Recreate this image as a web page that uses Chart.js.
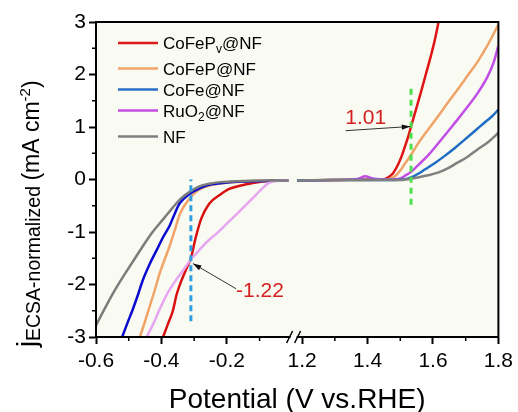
<!DOCTYPE html>
<html>
<head>
<meta charset="utf-8">
<script src="https://cdn.jsdelivr.net/npm/chart.js@4.4.0/dist/chart.umd.min.js"></script>
<style>
  html, body { margin: 0; padding: 0; background: #fff; }
</style>
</head>
<body>
<canvas id="myChart" width="518" height="412"></canvas>
<script>
// HER branch: [potential (V vs RHE), j (mA cm-2)]
const herCoFePv = [[-0.395,-3.0],[-0.38,-2.75],[-0.365,-2.5],[-0.354,-2.2],[-0.336,-1.88],[-0.32,-1.65],[-0.31,-1.5],[-0.295,-1.1],[-0.278,-0.74],[-0.254,-0.46],[-0.223,-0.3],[-0.193,-0.18],[-0.14,-0.09],[-0.09,-0.04],[-0.04,-0.02],[-0.012,-0.02]];
const herCoFeP  = [[-0.466,-3.0],[-0.45,-2.7],[-0.436,-2.42],[-0.42,-2.1],[-0.406,-1.8],[-0.39,-1.52],[-0.375,-1.27],[-0.36,-0.98],[-0.345,-0.68],[-0.33,-0.5],[-0.315,-0.37],[-0.3,-0.27],[-0.284,-0.19],[-0.25,-0.11],[-0.2,-0.06],[-0.12,-0.03],[-0.012,-0.02]];
const herCoFe   = [[-0.52,-3.0],[-0.505,-2.75],[-0.488,-2.48],[-0.472,-2.2],[-0.457,-1.92],[-0.435,-1.6],[-0.415,-1.35],[-0.395,-1.1],[-0.375,-0.88],[-0.36,-0.66],[-0.345,-0.46],[-0.315,-0.28],[-0.284,-0.17],[-0.26,-0.11],[-0.22,-0.07],[-0.16,-0.04],[-0.08,-0.03],[-0.012,-0.02]];
const herRuO2   = [[-0.445,-3.0],[-0.425,-2.75],[-0.406,-2.48],[-0.38,-2.15],[-0.354,-1.9],[-0.33,-1.7],[-0.31,-1.52],[-0.285,-1.35],[-0.263,-1.2],[-0.23,-1.02],[-0.2,-0.84],[-0.17,-0.66],[-0.141,-0.48],[-0.12,-0.35],[-0.1,-0.22],[-0.072,-0.07],[-0.04,-0.02],[-0.012,-0.02]];
const herNF     = [[-0.6,-2.78],[-0.575,-2.48],[-0.548,-2.17],[-0.52,-1.88],[-0.488,-1.57],[-0.458,-1.28],[-0.427,-1.0],[-0.395,-0.76],[-0.366,-0.54],[-0.34,-0.36],[-0.315,-0.24],[-0.284,-0.13],[-0.254,-0.08],[-0.22,-0.05],[-0.19,-0.04],[-0.1,-0.02],[-0.012,-0.02]];

// OER branch
const oerCoFePv = [[1.185,-0.02],[1.3,-0.01],[1.4,0.0],[1.447,0.0],[1.463,0.04],[1.478,0.12],[1.493,0.28],[1.504,0.44],[1.514,0.62],[1.524,0.81],[1.533,1.01],[1.548,1.33],[1.563,1.66],[1.578,2.0],[1.593,2.34],[1.605,2.64],[1.617,3.0]];
const oerCoFeP  = [[1.185,-0.02],[1.3,-0.01],[1.46,0.0],[1.484,0.06],[1.5,0.17],[1.514,0.3],[1.534,0.48],[1.554,0.68],[1.585,0.95],[1.615,1.2],[1.645,1.46],[1.675,1.71],[1.705,1.97],[1.736,2.24],[1.766,2.55],[1.8,2.95]];
const oerCoFe   = [[1.185,-0.02],[1.3,-0.01],[1.45,-0.01],[1.51,0.0],[1.533,0.04],[1.555,0.11],[1.575,0.19],[1.605,0.31],[1.636,0.45],[1.667,0.6],[1.697,0.76],[1.727,0.92],[1.757,1.08],[1.78,1.2],[1.8,1.33]];
const oerRuO2   = [[1.185,-0.02],[1.3,-0.01],[1.37,0.01],[1.393,0.06],[1.415,0.02],[1.46,0.0],[1.5,0.02],[1.514,0.07],[1.534,0.15],[1.554,0.27],[1.585,0.46],[1.615,0.68],[1.645,0.91],[1.675,1.14],[1.705,1.38],[1.736,1.64],[1.766,1.95],[1.785,2.22],[1.8,2.55]];
const oerNF     = [[1.185,-0.02],[1.3,-0.01],[1.5,-0.01],[1.554,0.04],[1.585,0.08],[1.615,0.13],[1.645,0.21],[1.675,0.32],[1.705,0.43],[1.736,0.57],[1.77,0.72],[1.8,0.89]];

// marker lines and labels
const herMark = [[-0.31, -2.7], [-0.31, 0.0]];
const oerMark = [[1.533, -0.48], [1.533, 1.75]];
const herLabel = '-1.22';
const oerLabel = '1.01';

const xTickValues = [-0.6, -0.4, -0.2, 1.2, 1.4, 1.6, 1.8];
const xMinorValues = [-0.5, -0.3, -0.1, 1.3, 1.5, 1.7];
const yMinorValues = [-2.5, -1.5, -0.5, 0.5, 1.5, 2.5];

// axis break: OER potentials are shifted left to close the gap
const BREAK = 1.17;
function toAxis(v) { return v > 0.5 ? v - BREAK : v; }
function pts(arr) { return arr.map(p => ({ x: toAxis(p[0]), y: p[1] })); }

const FONT = "'Liberation Sans', Arial, sans-serif";
Chart.defaults.font.family = FONT;

function line(data, color, extra) {
  return Object.assign({
    data: pts(data),
    borderColor: color,
    borderWidth: 2.5,
    pointRadius: 0,
    showLine: true,
    fill: false,
    cubicInterpolationMode: 'monotone'
  }, extra || {});
}

const datasets = [
  line(herMark, '#2f9ee0', { borderWidth: 3, borderDash: [6, 4], cubicInterpolationMode: 'default' }),
  line(oerMark, '#4ce04c', { borderWidth: 3, borderDash: [6, 5], cubicInterpolationMode: 'default' }),
  line(herNF, '#7c7c7c'),
  line(herRuO2, '#e6a6f2'),
  line(herCoFe, '#0a0ad0'),
  line(herCoFeP, '#f0a468'),
  line(herCoFePv, '#d81010'),
  line(oerNF, '#808080'),
  line(oerCoFe, '#1f6cc4'),
  line(oerRuO2, '#c24ee6'),
  line(oerCoFeP, '#f0a468'),
  line(oerCoFePv, '#e01414')
];

// legend rows: text pieces [text, isSub]
const legendRows = [
  { color: '#e01818', parts: [['CoFeP', 0], ['v', 1], ['@NF', 0]] },
  { color: '#f0a46a', parts: [['CoFeP@NF', 0]] },
  { color: '#2a6fc9', parts: [['CoFe@NF', 0]] },
  { color: '#c44ce0', parts: [['RuO', 0], ['2', 1], ['@NF', 0]] },
  { color: '#808080', parts: [['NF', 0]] }
];
const legendY = [43, 68.5, 89.5, 110.5, 136.5];

function arrow(ctx, x1, y1, x2, y2) {
  ctx.beginPath();
  ctx.moveTo(x1, y1);
  ctx.lineTo(x2, y2);
  ctx.stroke();
  const a = Math.atan2(y2 - y1, x2 - x1);
  ctx.beginPath();
  ctx.moveTo(x2, y2);
  ctx.lineTo(x2 - 9 * Math.cos(a - 0.3), y2 - 9 * Math.sin(a - 0.3));
  ctx.lineTo(x2 - 9 * Math.cos(a + 0.3), y2 - 9 * Math.sin(a + 0.3));
  ctx.closePath();
  ctx.fill();
}

const decor = {
  id: 'decor',
  beforeDraw(chart) {
    const { ctx, chartArea: a } = chart;
    ctx.save();
    ctx.fillStyle = '#f9fbf3';
    ctx.fillRect(a.left, a.top, a.right - a.left, a.bottom - a.top);
    ctx.restore();
  },
  afterDraw(chart) {
    const { ctx, chartArea: a } = chart;
    const xs = chart.scales.x, ys = chart.scales.y;
    ctx.save();

    // frame
    ctx.strokeStyle = '#000';
    ctx.lineWidth = 2;
    ctx.strokeRect(a.left, a.top, a.right - a.left, a.bottom - a.top);

    // minor ticks
    ctx.lineWidth = 1.5;
    ctx.beginPath();
    xMinorValues.forEach(v => {
      const px = xs.getPixelForValue(toAxis(v));
      ctx.moveTo(px, a.bottom);
      ctx.lineTo(px, a.bottom + 4);
    });
    yMinorValues.forEach(v => {
      const py = ys.getPixelForValue(v);
      ctx.moveTo(a.left, py);
      ctx.lineTo(a.left - 4, py);
    });
    ctx.stroke();

    // axis break marks
    const bx = xs.getPixelForValue(0.004);
    ctx.fillStyle = '#fff';
    ctx.fillRect(bx - 3, a.bottom - 2, 6, 4);
    ctx.strokeStyle = '#000';
    ctx.lineWidth = 1.5;
    ctx.beginPath();
    ctx.moveTo(bx - 7, a.bottom + 6); ctx.lineTo(bx - 1, a.bottom - 6);
    ctx.moveTo(bx + 1, a.bottom + 6); ctx.lineTo(bx + 7, a.bottom - 6);
    ctx.stroke();

    // legend
    legendRows.forEach((row, i) => {
      const y = legendY[i];
      ctx.strokeStyle = row.color;
      ctx.lineWidth = 2.5;
      ctx.beginPath();
      ctx.moveTo(118, y);
      ctx.lineTo(158, y);
      ctx.stroke();
      let x = 163;
      ctx.fillStyle = '#000';
      ctx.textBaseline = 'alphabetic';
      ctx.textAlign = 'left';
      row.parts.forEach(([t, sub]) => {
        ctx.font = (sub ? '12px ' : '17px ') + FONT;
        ctx.fillText(t, x, y + 6 + (sub ? 4 : 0));
        x += ctx.measureText(t).width;
      });
    });

    // annotations
    ctx.strokeStyle = '#333';
    ctx.fillStyle = '#111';
    ctx.lineWidth = 1;
    arrow(ctx, xs.getPixelForValue(toAxis(1.333)), ys.getPixelForValue(0.93),
               xs.getPixelForValue(toAxis(1.531)), ys.getPixelForValue(1.01));
    arrow(ctx, xs.getPixelForValue(-0.172), ys.getPixelForValue(-2.08),
               xs.getPixelForValue(-0.304), ys.getPixelForValue(-1.6));
    ctx.fillStyle = '#d42020';
    ctx.font = '21px ' + FONT;
    ctx.textAlign = 'left';
    ctx.fillText(oerLabel, xs.getPixelForValue(toAxis(1.332)), ys.getPixelForValue(1.05));
    ctx.fillText(herLabel, xs.getPixelForValue(-0.172), ys.getPixelForValue(-2.23));

    // x title
    ctx.fillStyle = '#000';
    ctx.font = '28px ' + FONT;
    ctx.textAlign = 'center';
    ctx.fillText('Potential (V vs.RHE)', (a.left + a.right) / 2, 408);

    // y title, rotated
    ctx.translate(39, 347);
    ctx.rotate(-Math.PI / 2);
    ctx.textAlign = 'left';
    const yParts = [
      ['j', 27, -3], ['ECSA-normalized', 19.5, 1], [' ', 19.5, 0],
      ['(mA cm', 23, 0], ['-2', 15, -9], [')', 23, 0]
    ];
    let tx = 0;
    yParts.forEach(([t, size, dy]) => {
      ctx.font = size + 'px ' + FONT;
      ctx.fillText(t, tx, dy);
      tx += ctx.measureText(t).width;
    });
    ctx.restore();
  }
};

new Chart(document.getElementById('myChart').getContext('2d'), {
  type: 'scatter',
  data: { datasets: datasets },
  options: {
    responsive: false,
    animation: false,
    layout: { padding: { top: 22, right: 17, left: 0, bottom: 0 } },
    plugins: { legend: { display: false }, tooltip: { enabled: false } },
    scales: {
      x: {
        type: 'linear',
        min: -0.6,
        max: 1.8 - BREAK,
        afterBuildTicks: s => { s.ticks = xTickValues.map(v => ({ value: toAxis(v) })); },
        afterFit: s => { s.height = 75; },
        ticks: {
          autoSkip: false,
          maxRotation: 0,
          padding: 5,
          color: '#000',
          font: { size: 21 },
          callback: (v, i) => xTickValues[i].toFixed(1)
        },
        grid: { drawOnChartArea: false, tickLength: 7, tickColor: '#000', tickWidth: 2 },
        border: { color: '#000', width: 2 }
      },
      y: {
        min: -3,
        max: 3,
        afterFit: s => { s.width = 96; },
        ticks: { stepSize: 1, padding: 3, color: '#000', font: { size: 21 } },
        grid: { drawOnChartArea: false, tickLength: 7, tickColor: '#000', tickWidth: 2 },
        border: { color: '#000', width: 2 }
      }
    }
  },
  plugins: [decor]
});
</script>
</body>
</html>
